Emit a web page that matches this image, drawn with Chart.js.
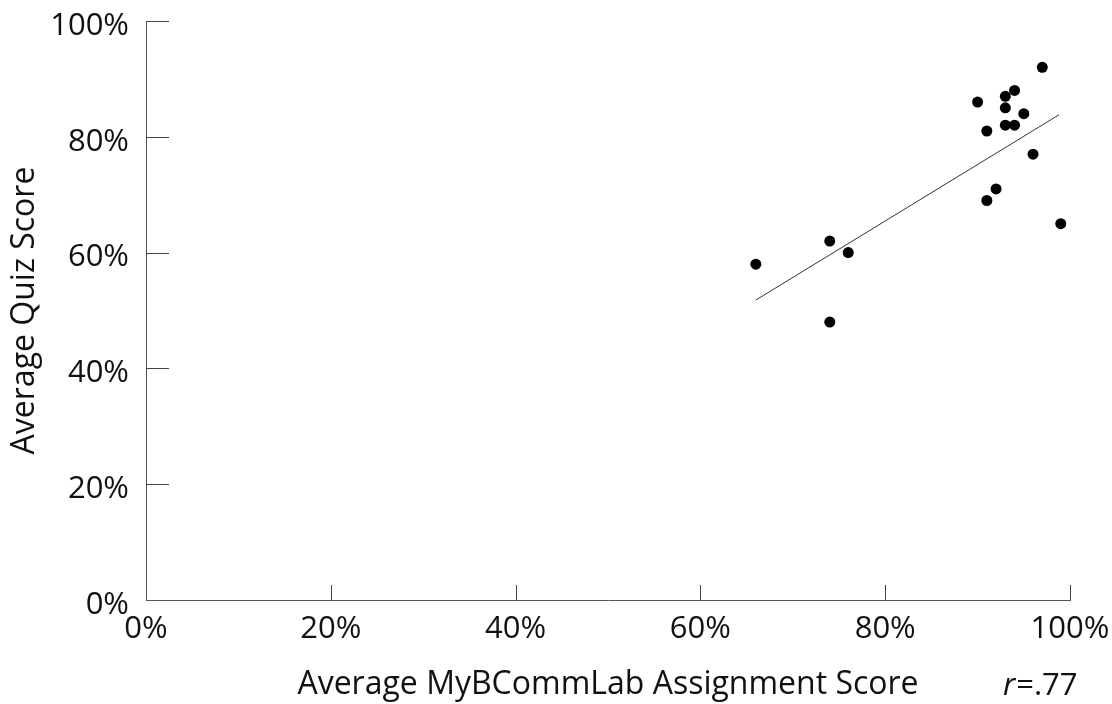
<!DOCTYPE html>
<html>
<head>
<meta charset="utf-8">
<script src="https://cdn.jsdelivr.net/npm/chart.js@4/dist/chart.umd.min.js"></script>
<style>
  html, body { margin: 0; padding: 0; background: #fff; }
  #wrap { width: 1112px; height: 704px; }
</style>
</head>
<body>
<div id="wrap"><canvas id="chart" width="1112" height="704"></canvas></div>
<script>
// assignment score (x) vs quiz score (y), in percent
const assignmentScores = [66, 74, 76, 74, 90, 91, 93, 93, 93, 94, 94, 95, 97, 96, 92, 91, 99];
const quizScores = [58, 62, 60, 48, 86, 81, 87, 85, 82, 82, 88, 84, 92, 77, 71, 69, 65];

// fitted line ends
const trendX = [66, 98.8];
const trendY = [51.8, 83.8];

const tickValues = [0, 20, 40, 60, 80, 100];
const rValue = ".77";

const FONT = "'Open Sans', 'Noto Sans', sans-serif";

const points = assignmentScores.map((x, i) => ({ x: x, y: quizScores[i] }));
const trend = trendX.map((x, i) => ({ x: x, y: trendY[i] }));

// ticks are drawn inward from the axis lines
const innerTicks = {
    id: "innerTicks",
    afterDraw(chart) {
        const ctx = chart.ctx;
        const xs = chart.scales.x;
        const ys = chart.scales.y;
        ctx.save();
        ctx.strokeStyle = "#444";
        ctx.lineWidth = 1;
        ctx.beginPath();
        tickValues.forEach(v => {
            if (v === 0) return;
            const py = Math.round(ys.getPixelForValue(v)) + 0.5;
            ctx.moveTo(xs.left, py);
            ctx.lineTo(xs.left + 23, py);
            const px = Math.round(xs.getPixelForValue(v)) + 0.5;
            ctx.moveTo(px, ys.bottom);
            ctx.lineTo(px, ys.bottom - 15);
        });
        ctx.stroke();

        // correlation note under the right end of the x axis
        ctx.fillStyle = "#111";
        ctx.textBaseline = "alphabetic";
        ctx.textAlign = "left";
        ctx.font = "italic 31px " + FONT;
        const rx = 1003, ry = 695;
        ctx.fillText("r", rx, ry);
        const w = ctx.measureText("r").width;
        ctx.font = "31px " + FONT;
        ctx.fillText("=" + rValue, rx + w + 1, ry);
        ctx.restore();
    }
};

new Chart("chart", {
    type: "scatter",
    data: {
        datasets: [{
            label: "Students",
            data: points,
            backgroundColor: "#000",
            borderWidth: 0,
            pointRadius: 5.5,
            pointHoverRadius: 5.5
        }, {
            type: "line",
            label: "Trend",
            data: trend,
            borderColor: "#333",
            borderWidth: 1,
            pointRadius: 0,
            fill: false
        }]
    },
    options: {
        responsive: false,
        animation: false,
        events: [],
        layout: { padding: { top: 21, right: 42, left: 0, bottom: 0 } },
        plugins: {
            legend: { display: false },
            tooltip: { enabled: false }
        },
        scales: {
            x: {
                type: "linear",
                min: 0,
                max: 100,
                afterFit: (scale) => {
                    scale.height = 104;
                    scale.paddingLeft = 0;
                    scale.paddingRight = 0;
                },
                afterBuildTicks: (scale) => { scale.ticks = tickValues.map(v => ({ value: v })); },
                grid: { display: false, drawTicks: false },
                border: { display: true, color: "#555", width: 1 },
                ticks: {
                    padding: 11,
                    color: "#111",
                    font: { family: FONT, size: 31 },
                    maxRotation: 0,
                    callback: (v) => v + "%"
                },
                title: {
                    display: true,
                    text: "Average MyBCommLab Assignment Score",
                    color: "#111",
                    font: { family: FONT, size: 32 },
                    padding: { top: 0, bottom: 0 }
                }
            },
            y: {
                type: "linear",
                min: 0,
                max: 100,
                afterFit: (scale) => {
                    scale.width = 146;
                    scale.paddingTop = 0;
                    scale.paddingBottom = 0;
                },
                afterBuildTicks: (scale) => { scale.ticks = tickValues.map(v => ({ value: v })); },
                grid: { display: false, drawTicks: false },
                border: { display: true, color: "#555", width: 1 },
                ticks: {
                    padding: 17,
                    labelOffset: 5,
                    color: "#111",
                    font: { family: FONT, size: 31 },
                    callback: (v) => v + "%"
                },
                title: {
                    display: true,
                    text: "Average Quiz Score",
                    color: "#111",
                    font: { family: FONT, size: 32 },
                    padding: { top: 6, bottom: 0 }
                }
            }
        }
    },
    plugins: [innerTicks]
});
</script>
</body>
</html>
